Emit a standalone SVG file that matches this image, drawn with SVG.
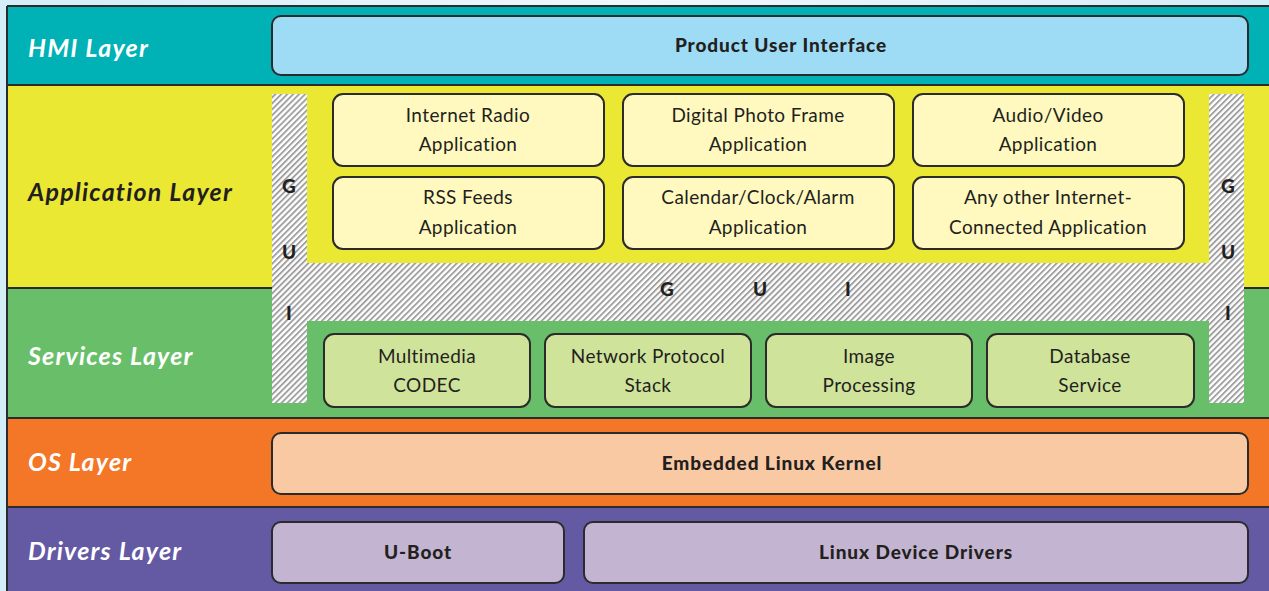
<svg xmlns="http://www.w3.org/2000/svg" width="1269" height="591" viewBox="0 0 1269 591">
  <defs>
    <linearGradient id="bg" x1="0" y1="0" x2="1" y2="0">
      <stop offset="0" stop-color="#d3edf9"/>
      <stop offset="0.5" stop-color="#eef8fd"/>
      <stop offset="1" stop-color="#d3edf9"/>
    </linearGradient>
    <pattern id="hatch" patternUnits="userSpaceOnUse" width="4.2" height="4.2" patternTransform="rotate(45)">
      <rect width="4.2" height="4.2" fill="#ffffff"/>
      <rect width="1.9" height="4.2" fill="#a0a0a0"/>
    </pattern>
    <style>
      .sep { stroke: #2b2b2b; stroke-width: 2; }
      .box { stroke: #2b2b2b; stroke-width: 2; }
      .lbl { font-family: Lato, "Open Sans", sans-serif; font-weight: bold; font-style: italic; font-size: 25px; letter-spacing: 1.2px; fill: #ffffff; }
      .txt { font-family: Lato, "Open Sans", sans-serif; font-size: 19px; letter-spacing: 0.4px; fill: #231f20; text-anchor: middle; }
      .btxt { font-family: Lato, "Open Sans", sans-serif; font-weight: 900; font-size: 19px; letter-spacing: 0.9px; fill: #231f20; text-anchor: middle; }
      .gui { font-family: Lato, "Open Sans", sans-serif; font-weight: 900; font-size: 19px; fill: #231f20; text-anchor: middle; }
    </style>
  </defs>

  <rect width="1269" height="591" fill="url(#bg)"/>

  <g id="layers">
    <rect x="7" y="6" width="1270" height="79" fill="#00b1b5"/>
    <rect x="7" y="85" width="1270" height="203" fill="#ebe834"/>
    <rect x="7" y="288" width="1270" height="130" fill="#69bf69"/>
    <rect x="7" y="418" width="1270" height="89" fill="#f47627"/>
    <rect x="7" y="507" width="1270" height="90" fill="#6459a3"/>
    <line class="sep" x1="7" y1="6" x2="1277" y2="6"/>
    <line class="sep" x1="7" y1="85" x2="1277" y2="85"/>
    <line class="sep" x1="7" y1="288" x2="1277" y2="288"/>
    <line class="sep" x1="7" y1="418" x2="1277" y2="418"/>
    <line class="sep" x1="7" y1="507" x2="1277" y2="507"/>
    <line class="sep" x1="7" y1="6" x2="7" y2="597"/>
    <text class="lbl" x="28" y="57">HMI Layer</text>
    <text class="lbl" x="28" y="201" style="fill:#231f20">Application Layer</text>
    <text class="lbl" x="28" y="365">Services Layer</text>
    <text class="lbl" x="28" y="471">OS Layer</text>
    <text class="lbl" x="28" y="560">Drivers Layer</text>
  </g>

  <g id="gui">
    <path d="M272,94 H307 V263 H1209 V94 H1244 V403 H1209 V321 H307 V403 H272 Z" fill="url(#hatch)"/>
    <text class="gui" x="289" y="193">G</text>
    <text class="gui" x="289" y="259">U</text>
    <text class="gui" x="289" y="320">I</text>
    <text class="gui" x="1228" y="193">G</text>
    <text class="gui" x="1228" y="259">U</text>
    <text class="gui" x="1228" y="320">I</text>
    <text class="gui" x="667" y="296">G</text>
    <text class="gui" x="760" y="296">U</text>
    <text class="gui" x="848" y="296">I</text>
  </g>

  <g id="hmi">
    <rect class="box" x="272" y="16" width="976" height="59" rx="9" fill="#9edcf6"/>
    <text class="btxt" x="781" y="52">Product User Interface</text>
  </g>

  <g id="app-internet-radio">
    <rect class="box" x="333" y="94" width="271" height="72" rx="10" fill="#fff9bf"/>
    <text class="txt" x="468" y="122">Internet Radio</text>
    <text class="txt" x="468" y="151">Application</text>
  </g>
  <g id="app-photo-frame">
    <rect class="box" x="623" y="94" width="271" height="72" rx="10" fill="#fff9bf"/>
    <text class="txt" x="758" y="122">Digital Photo Frame</text>
    <text class="txt" x="758" y="151">Application</text>
  </g>
  <g id="app-audio-video">
    <rect class="box" x="913" y="94" width="271" height="72" rx="10" fill="#fff9bf"/>
    <text class="txt" x="1048" y="122">Audio/Video</text>
    <text class="txt" x="1048" y="151">Application</text>
  </g>
  <g id="app-rss">
    <rect class="box" x="333" y="177" width="271" height="72" rx="10" fill="#fff9bf"/>
    <text class="txt" x="468" y="204">RSS Feeds</text>
    <text class="txt" x="468" y="234">Application</text>
  </g>
  <g id="app-calendar">
    <rect class="box" x="623" y="177" width="271" height="72" rx="10" fill="#fff9bf"/>
    <text class="txt" x="758" y="204">Calendar/Clock/Alarm</text>
    <text class="txt" x="758" y="234">Application</text>
  </g>
  <g id="app-other">
    <rect class="box" x="913" y="177" width="271" height="72" rx="10" fill="#fff9bf"/>
    <text class="txt" x="1048" y="204">Any other Internet-</text>
    <text class="txt" x="1048" y="234">Connected Application</text>
  </g>

  <g id="svc-codec">
    <rect class="box" x="324" y="334" width="206" height="73" rx="10" fill="#cfe39b"/>
    <text class="txt" x="427" y="363">Multimedia</text>
    <text class="txt" x="427" y="392">CODEC</text>
  </g>
  <g id="svc-network">
    <rect class="box" x="545" y="334" width="206" height="73" rx="10" fill="#cfe39b"/>
    <text class="txt" x="648" y="363">Network Protocol</text>
    <text class="txt" x="648" y="392">Stack</text>
  </g>
  <g id="svc-image">
    <rect class="box" x="766" y="334" width="206" height="73" rx="10" fill="#cfe39b"/>
    <text class="txt" x="869" y="363">Image</text>
    <text class="txt" x="869" y="392">Processing</text>
  </g>
  <g id="svc-database">
    <rect class="box" x="987" y="334" width="207" height="73" rx="10" fill="#cfe39b"/>
    <text class="txt" x="1090" y="363">Database</text>
    <text class="txt" x="1090" y="392">Service</text>
  </g>

  <g id="os-kernel">
    <rect class="box" x="272" y="433" width="976" height="61" rx="9" fill="#f9c9a3"/>
    <text class="btxt" x="772" y="470">Embedded Linux Kernel</text>
  </g>

  <g id="drv-uboot">
    <rect class="box" x="272" y="522" width="292" height="61" rx="9" fill="#c3b5d1"/>
    <text class="btxt" x="418" y="559">U-Boot</text>
  </g>
  <g id="drv-linux">
    <rect class="box" x="584" y="522" width="664" height="61" rx="9" fill="#c3b5d1"/>
    <text class="btxt" x="916" y="559">Linux Device Drivers</text>
  </g>

  <g id="connectors"/>
</svg>
